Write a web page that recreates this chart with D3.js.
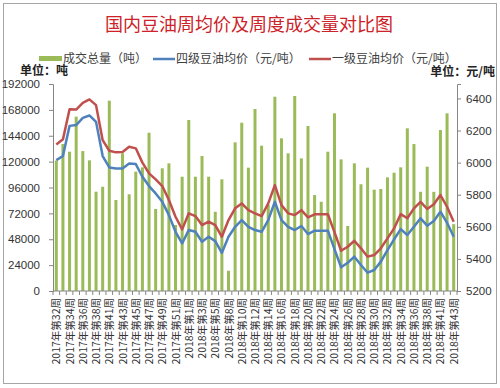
<!DOCTYPE html>
<html>
<head>
<meta charset="utf-8">
<script src="https://cdn.jsdelivr.net/npm/d3@7"></script>
<style>
  body { margin: 0; background: #fff; }
  svg text { font-family: "Noto Sans CJK SC", "Liberation Sans", sans-serif; }
</style>
</head>
<body>
<div id="chart"></div>
<script>
// Weekly soybean oil prices vs weekly volume

// Categories (weeks)
let weeks2017 = [32, 33, 34, 35, 36, 37, 38, 39, 41, 42, 43, 44, 45, 46, 47, 48, 49, 50, 51, 52];
let weeks2018 = [1, 2, 3, 4, 5, 6, 8, 9, 10, 11, 12, 13, 14, 15, 16, 17, 18, 19, 20, 21, 22, 23, 24, 25,
    26, 27, 28, 29, 30, 31, 32, 33, 34, 35, 36, 37, 38, 39, 41, 42, 43];
let categories = weeks2017.map(w => '2017年第' + w + '周')
    .concat(weeks2018.map(w => '2018年第' + w + '周'));

// Volume (tons)
let volume = [121000, 136300, 129200, 161700, 129800, 121200, 92100, 96700, 176500, 84400,
    127700, 89700, 110700, 114700, 146800, 76100, 113800, 118400, 61200, 106000,
    158600, 106000, 125200, 106000, 73500, 103600, 18800, 137900, 156100, 114400,
    168800, 134800, 80000, 180200, 141600, 127700, 180900, 123000, 153000, 89000,
    82800, 129200, 164800, 122100, 60300, 118400, 99000, 114400, 94000, 94600,
    105400, 109700, 114700, 150900, 136300, 92000, 115300, 92000, 149300, 164800, 62000];

// Grade 4 soybean oil average price (yuan/ton)
let grade4 = [6016, 6041, 6229, 6234, 6279, 6294, 6254, 6041, 5970, 5964,
    5964, 5995, 5991, 5912, 5854, 5808, 5756, 5673, 5569, 5497,
    5580, 5569, 5507, 5538, 5511, 5438, 5538, 5600, 5642, 5600,
    5580, 5569, 5642, 5756, 5642, 5600, 5580, 5605, 5555, 5576,
    5576, 5576, 5461, 5348, 5376, 5414, 5362, 5314, 5331, 5383,
    5455, 5522, 5586, 5549, 5600, 5653, 5607, 5636, 5694, 5625, 5538];

// Grade 1 soybean oil average price (yuan/ton)
let grade1 = [6113, 6145, 6333, 6331, 6373, 6394, 6358, 6140, 6074, 6064,
    6066, 6099, 6089, 6000, 5933, 5896, 5854, 5767, 5663, 5584,
    5684, 5667, 5611, 5632, 5611, 5538, 5642, 5715, 5746, 5704,
    5684, 5667, 5746, 5860, 5735, 5684, 5673, 5704, 5659, 5678,
    5678, 5678, 5567, 5451, 5476, 5513, 5466, 5414, 5424, 5466,
    5528, 5590, 5679, 5653, 5715, 5756, 5711, 5740, 5798, 5725, 5632];

// Axis ticks
let volTicks = [0, 24000, 48000, 72000, 96000, 120000, 144000, 168000, 192000];
let priceTicks = [5200, 5400, 5600, 5800, 6000, 6200, 6400];
let volMax = 192000;
let priceMin = 5200, priceMax = 6490;

let seriesNames = ['成交总量（吨）', '四级豆油均价（元/吨）', '一级豆油均价（元/吨）'];

// Colors
let green = '#9bbb59';
let blue = '#4f81bd';
let red = '#c0504d';

let W = 500, H = 388;
let m = { t: 84, r: 43, b: 97, l: 53 };

let svg = d3.select('#chart').append('svg')
    .attr('width', W)
    .attr('height', H);

// outer frame
svg.append('rect')
    .attr('x', 3.5).attr('y', 3.5)
    .attr('width', W - 7).attr('height', H - 8)
    .attr('fill', '#fff')
    .attr('stroke', '#a6a6a6');

let x = d3.scaleBand()
    .domain(d3.range(categories.length))
    .range([m.l, W - m.r]);

let yL = d3.scaleLinear().domain([0, volMax]).range([H - m.b, m.t]);
let yR = d3.scaleLinear().domain([priceMin, priceMax]).range([H - m.b, m.t]);

// Bars
let bw = 3;
svg.append('g').selectAll('rect')
    .data(volume)
    .enter().append('rect')
    .attr('x', (d, i) => x(i) + x.bandwidth() / 2 - bw / 2)
    .attr('y', d => yL(d))
    .attr('width', bw)
    .attr('height', d => yL(0) - yL(d))
    .attr('fill', green);

// Lines
let line = d3.line()
    .x((d, i) => x(i) + x.bandwidth() / 2)
    .y(d => yR(d));

svg.append('path')
    .datum(grade4)
    .attr('d', line)
    .attr('fill', 'none')
    .attr('stroke', blue)
    .attr('stroke-width', 2.5)
    .attr('stroke-linejoin', 'round');

svg.append('path')
    .datum(grade1)
    .attr('d', line)
    .attr('fill', 'none')
    .attr('stroke', red)
    .attr('stroke-width', 2.5)
    .attr('stroke-linejoin', 'round');

// Left axis
let gL = svg.append('g')
    .attr('transform', 'translate(' + m.l + ',0)')
    .call(d3.axisLeft(yL).tickValues(volTicks).tickSize(4).tickPadding(9).tickFormat(d3.format('d')));

// Right axis
let gR = svg.append('g')
    .attr('transform', 'translate(' + (W - m.r) + ',0)')
    .call(d3.axisRight(yR).tickValues(priceTicks).tickSize(4).tickPadding(5).tickFormat(d3.format('d')));

[gL, gR].forEach(g => {
    g.select('.domain').attr('stroke', '#868686');
    g.selectAll('.tick line').attr('stroke', '#868686');
    g.selectAll('.tick text')
        .attr('fill', '#333')
        .style('font-size', '11.5px')
        .style('font-family', '"Liberation Sans", Arial, sans-serif');
});

// Bottom axis: baseline, boundary ticks, every second label
let gB = svg.append('g');
gB.append('line')
    .attr('x1', m.l).attr('x2', W - m.r)
    .attr('y1', yL(0)).attr('y2', yL(0))
    .attr('stroke', '#868686');

gB.selectAll('line.tk')
    .data(d3.range(categories.length + 1))
    .enter().append('line')
    .attr('class', 'tk')
    .attr('x1', i => i < categories.length ? x(i) : W - m.r)
    .attr('x2', i => i < categories.length ? x(i) : W - m.r)
    .attr('y1', yL(0)).attr('y2', yL(0) + 4)
    .attr('stroke', '#868686');

gB.selectAll('text')
    .data(categories.map((c, i) => ({ c: c, i: i })).filter(d => d.i % 2 === 0))
    .enter().append('text')
    .attr('transform', d => 'translate(' + (x(d.i) + x.bandwidth() / 2 + 4) + ',' + (yL(0) + 7) + ') rotate(-90)')
    .attr('text-anchor', 'end')
    .attr('fill', '#333')
    .style('font-size', '10.5px')
    .text(d => d.c);

// Title
svg.append('text')
    .attr('x', 249).attr('y', 31)
    .attr('text-anchor', 'middle')
    .attr('fill', '#cc2229')
    .style('font-size', '18px')
    .text('国内豆油周均价及周度成交量对比图');

// Legend
let lg = svg.append('g').style('font-size', '12px');
lg.append('rect').attr('x', 39).attr('y', 56).attr('width', 23).attr('height', 5).attr('fill', green);
lg.append('text').attr('x', 63).attr('y', 63).attr('fill', '#404040').text(seriesNames[0]);
lg.append('line').attr('x1', 153).attr('x2', 175).attr('y1', 59).attr('y2', 59)
    .attr('stroke', blue).attr('stroke-width', 2.5);
lg.append('text').attr('x', 176).attr('y', 63).attr('fill', '#404040').text(seriesNames[1]);
lg.append('line').attr('x1', 309).attr('x2', 331).attr('y1', 59).attr('y2', 59)
    .attr('stroke', red).attr('stroke-width', 2.5);
lg.append('text').attr('x', 332).attr('y', 63).attr('fill', '#404040').text(seriesNames[2]);

// Units
svg.append('text')
    .attr('x', 20).attr('y', 75)
    .attr('fill', '#222')
    .style('font-size', '12px')
    .style('font-weight', 'bold')
    .text('单位：吨');

svg.append('text')
    .attr('x', 495).attr('y', 76)
    .attr('text-anchor', 'end')
    .attr('fill', '#222')
    .style('font-size', '12px')
    .style('font-weight', 'bold')
    .text('单位：元/吨');
</script>
</body>
</html>
